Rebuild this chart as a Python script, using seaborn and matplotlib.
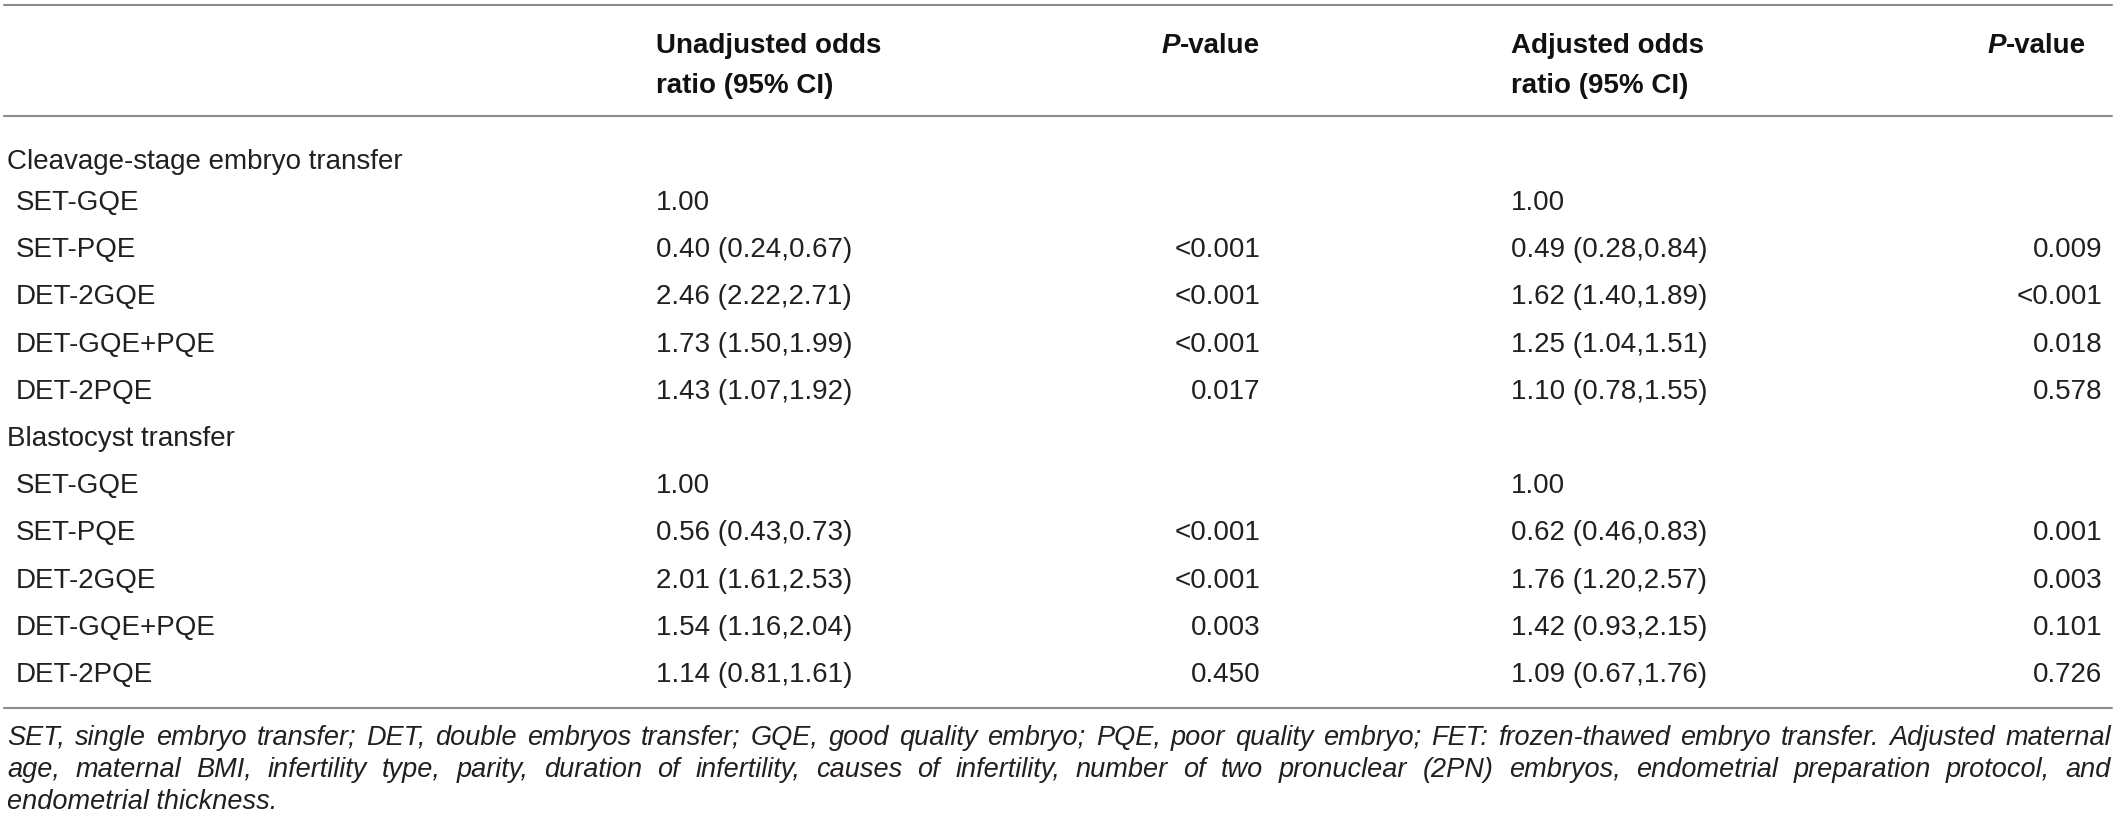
import matplotlib
matplotlib.use("Agg")
import matplotlib.pyplot as plt
import seaborn as sns

# table content
row_labels = ["Cleavage-stage embryo transfer", "SET-GQE", "SET-PQE", "DET-2GQE",
              "DET-GQE+PQE", "DET-2PQE", "Blastocyst transfer", "SET-GQE",
              "SET-PQE", "DET-2GQE", "DET-GQE+PQE", "DET-2PQE"]
is_group = [True, False, False, False, False, False,
            True, False, False, False, False, False]
unadj_or = ["", "1.00", "0.40 (0.24,0.67)", "2.46 (2.22,2.71)", "1.73 (1.50,1.99)",
            "1.43 (1.07,1.92)", "", "1.00", "0.56 (0.43,0.73)", "2.01 (1.61,2.53)",
            "1.54 (1.16,2.04)", "1.14 (0.81,1.61)"]
unadj_p = ["", "", "<0.001", "<0.001", "<0.001", "0.017",
           "", "", "<0.001", "<0.001", "0.003", "0.450"]
adj_or = ["", "1.00", "0.49 (0.28,0.84)", "1.62 (1.40,1.89)", "1.25 (1.04,1.51)",
          "1.10 (0.78,1.55)", "", "1.00", "0.62 (0.46,0.83)", "1.76 (1.20,2.57)",
          "1.42 (0.93,2.15)", "1.09 (0.67,1.76)"]
adj_p = ["", "", "0.009", "<0.001", "0.018", "0.578",
         "", "", "0.001", "0.003", "0.101", "0.726"]

footnote_lines = [
    "SET, single embryo transfer; DET, double embryos transfer; GQE, good quality embryo; "
    "PQE, poor quality embryo; FET: frozen-thawed embryo transfer. Adjusted maternal",
    "age, maternal BMI, infertility type, parity, duration of infertility, causes of infertility, "
    "number of two pronuclear (2PN) embryos, endometrial preparation protocol, and",
    "endometrial thickness.",
]

sns.set_theme(style="white")
plt.rcParams["font.family"] = ["Liberation Sans", "DejaVu Sans"]

W, H = 2118, 826
fig = plt.figure(figsize=(W / 100, H / 100), dpi=100)
ax = fig.add_axes([0, 0, 1, 1])
ax.set_xlim(0, W)
ax.set_ylim(H, 0)
ax.axis("off")

txt = "#231f20"
fs = 20
rule = dict(color="#8c8c8c", lw=1.5)

# horizontal rules
for y in (5, 116, 708):
    ax.plot([4, 2112], [y, y], **rule)

# header
hdr = dict(fontsize=fs, fontweight="bold", color="#111111")
ax.text(656, 53, "Unadjusted odds", ha="left", va="baseline", **hdr)
ax.text(656, 93, "ratio (95% CI)", ha="left", va="baseline", **hdr)
ax.text(1511, 53, "Adjusted odds", ha="left", va="baseline", **hdr)
ax.text(1511, 93, "ratio (95% CI)", ha="left", va="baseline", **hdr)
renderer = fig.canvas.get_renderer()
for xr in (1260, 2086):
    t = ax.text(xr, 53, "-value", ha="right", va="baseline", **hdr)
    bb = t.get_window_extent(renderer)
    ax.text(bb.x0, 53, "P", ha="right", va="baseline", fontsize=fs,
            fontweight="bold", fontstyle="italic", color="#111111")

# body rows
for i, lab in enumerate(row_labels):
    yb = 169 if i == 0 else 210 + 47.2 * (i - 1)
    ax.text(7 if is_group[i] else 16, yb, lab, ha="left", va="baseline",
            fontsize=fs, color=txt)
    ax.text(656, yb, unadj_or[i], ha="left", va="baseline", fontsize=fs, color=txt)
    ax.text(1260, yb, unadj_p[i], ha="right", va="baseline", fontsize=fs, color=txt)
    ax.text(1511, yb, adj_or[i], ha="left", va="baseline", fontsize=fs, color=txt)
    ax.text(2102, yb, adj_p[i], ha="right", va="baseline", fontsize=fs, color=txt)

# footnote, justified
fn = dict(fontsize=19.5, fontstyle="italic", color=txt, va="baseline", ha="left")
x_left, x_right = 7, 2111
for k, line in enumerate(footnote_lines):
    yb = 745 + 32 * k
    if k == len(footnote_lines) - 1:
        ax.text(x_left, yb, line, **fn)
        continue
    words = line.split(" ")
    texts = [ax.text(0, yb, w, **fn) for w in words]
    widths = [t.get_window_extent(renderer).width for t in texts]
    gap = (x_right - x_left - sum(widths)) / (len(words) - 1)
    x = x_left
    for t, w in zip(texts, widths):
        t.set_x(x)
        x += w + gap

fig.savefig("out.png", dpi=100)
